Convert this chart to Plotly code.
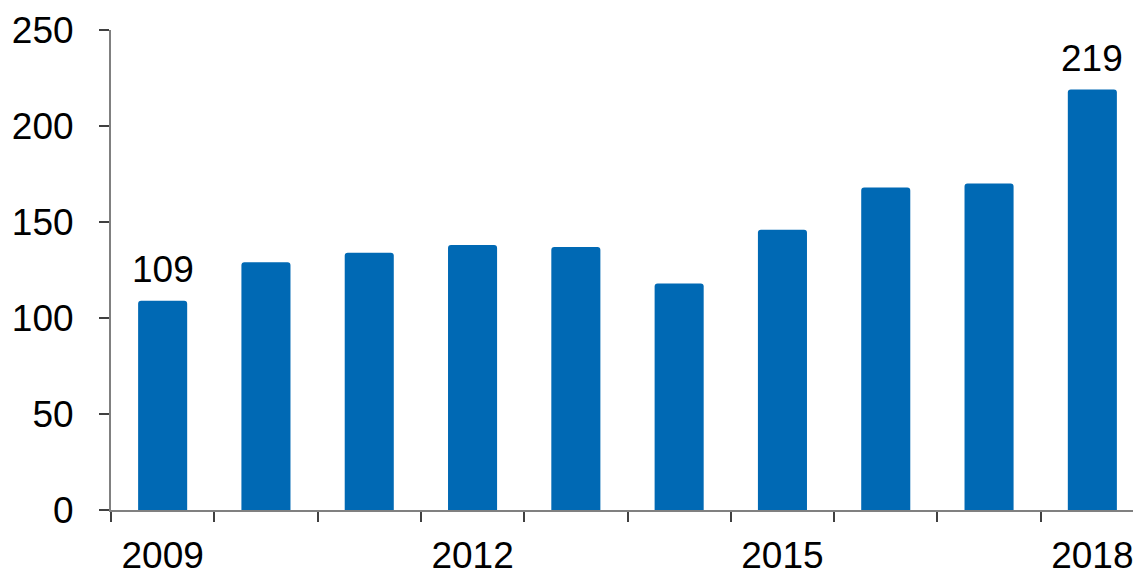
import plotly.graph_objects as go

years = [2009, 2010, 2011, 2012, 2013, 2014, 2015, 2016, 2017, 2018]
values = [109, 129, 134, 138, 137, 118, 146, 168, 170, 219]
labeled_years = [2009, 2018]
x_tick_labels = [2009, 2012, 2015, 2018]
y_ticks = [0, 50, 100, 150, 200, 250]

BAR = "#0069B4"
FONT = "Liberation Sans, Arial, sans-serif"
FS = 37

fig = go.Figure()
fig.add_trace(go.Bar(
    x=years, y=values, width=0.475,
    marker=dict(color=BAR, line=dict(width=0), cornerradius=3),
    hoverinfo="x+y",
))

for yr, v in zip(years, values):
    if yr in labeled_years:
        fig.add_annotation(x=yr, y=v, text=str(v), showarrow=False,
                           yanchor="bottom", yshift=9,
                           font=dict(size=FS, color="#000000", family=FONT))

boundaries = [y - 0.5 for y in years] + [years[-1] + 0.5]

fig.update_layout(
    width=1136, height=568,
    margin=dict(l=103, r=0, t=22, b=64),
    paper_bgcolor="white", plot_bgcolor="white",
    showlegend=False,
    font=dict(family=FONT, size=FS, color="#000000"),
    xaxis=dict(
        range=[years[0] - 0.5, years[-1] + 0.5],
        tickmode="array", tickvals=x_tick_labels,
        ticktext=[str(t) for t in x_tick_labels],
        ticks="", ticklen=0, ticklabelstandoff=12,
        showgrid=False, zeroline=False,
        showline=True, linecolor="#808080", linewidth=2,
        minor=dict(tickmode="array", tickvals=boundaries, ticks="outside",
                   ticklen=10, tickcolor="#404040", tickwidth=2, showgrid=False),
        tickfont=dict(size=FS, family=FONT, color="#000000"),
    ),
    yaxis=dict(
        range=[0, 250], tickmode="array", tickvals=y_ticks,
        ticks="outside", ticklen=10, tickcolor="#404040", tickwidth=2,
        ticklabelstandoff=18,
        showgrid=False, zeroline=False,
        showline=True, linecolor="#808080", linewidth=2,
        tickfont=dict(size=FS, family=FONT, color="#000000"),
    ),
)

fig.write_html("out.html")
